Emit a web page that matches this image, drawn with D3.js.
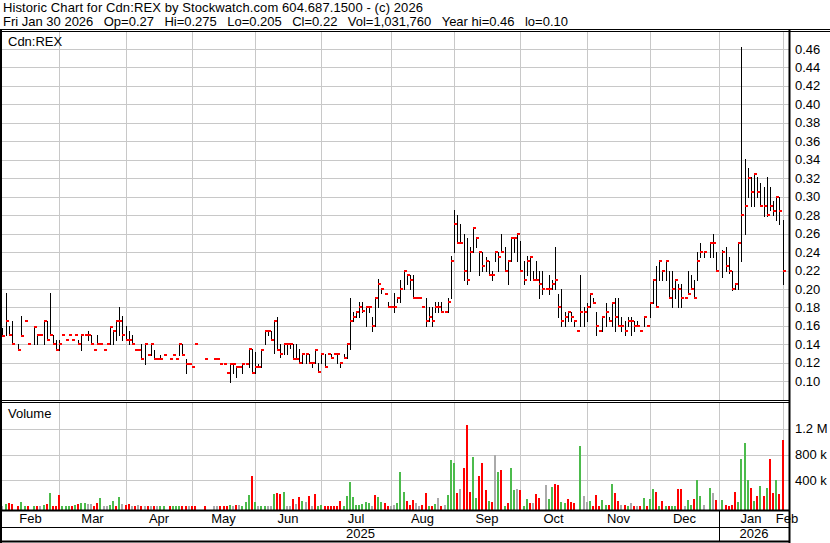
<!DOCTYPE html>
<html>
<head>
<meta charset="utf-8">
<script src="https://cdn.jsdelivr.net/npm/d3@7"></script>
<style>
  body { margin: 0; background: #fff; }
  text { font-family: "Liberation Sans", Arial, sans-serif; font-size: 13px; fill: #000; }
</style>
</head>
<body>
<div id="chart"></div>
<script>
"use strict";

// one slot per trading day, Feb 2025 .. Jan 30 2026 (null = no trade)
var high = [
  // Feb
  .158,.196,.160,.165,null,.140,.171,.165,.140,null,.159,.150,.150,.165,.165,.196,.150,.145,
  // Mar
  .145,.150,.145,.150,.145,.150,.145,.150,.150,.155,.150,.134,.150,.140,.134,.140,.159,.155,.165,.181,.171,
  // Apr
  .160,.155,.150,.134,.134,.140,.140,.129,.140,.134,.124,.129,.129,null,.124,.129,.124,.140,.140,.124,.119,
  // May
  .115,.140,null,null,.124,null,null,.124,.124,.119,.119,.109,.119,.119,.115,.115,.119,.119,.135,.135,
  // Jun
  .132,.119,.135,.155,.155,.155,.165,.170,.140,.140,.140,.140,.140,.140,.135,.130,.130,.130,.120,.134,.120,
  // Jul
  .131,.130,.130,.130,.130,.130,.120,.130,.140,.190,.175,.175,.186,.186,.180,.180,.170,.190,.211,.200,.196,.186,
  // Aug
  .180,.196,.190,.210,.220,.215,.215,.215,.190,.190,.180,.190,.180,.180,.186,.186,.186,.175,.190,.236,
  // Sep
  .286,.280,.270,.260,.255,.245,.266,.255,.240,.240,.235,.230,.220,.240,.240,.260,.245,.230,.255,.255,.260,
  // Oct
  .252,.230,.236,.235,.220,.230,.220,.220,.200,.215,.210,.245,.195,.200,.175,.175,.175,.165,.155,.215,.180,
  // Nov
  .185,.195,.190,.175,.155,.170,.185,.170,.185,.190,.190,.170,.165,.170,.170,.165,.165,.155,.170,.160,
  // Dec
  .185,.210,.225,.230,.220,.230,.220,.220,.210,.205,.205,.190,.220,.215,.210,.240,.250,.240,null,.250,.260,.240,
  // Jan
  null,.242,.245,.235,.220,.205,.250,.462,.341,.331,.321,.325,.321,.315,.311,.321,.311,.295,.300,.300,.275
];
var low = [
  .149,.150,.150,.140,null,.134,.149,.165,.140,null,.140,.140,.150,.140,.145,.150,.140,.134,
  .134,.150,.145,.150,.145,.150,.140,.134,.150,.145,.140,.134,.140,.140,.134,.140,.140,.140,.145,.150,.145,
  .145,.140,.140,.134,.134,.124,.119,.129,.129,.124,.124,.124,.129,null,.124,.129,.124,.129,.129,.109,.119,
  .115,.140,null,null,.124,null,null,.124,.124,.119,.119,.109,.099,.109,.105,.115,.109,.119,.115,.109,
  .109,.115,.115,.140,.150,.145,.131,.134,.126,.130,.130,.136,.124,.124,.120,.120,.120,.120,.115,.120,.110,
  .120,.115,.130,.125,.130,.120,.115,.125,.125,.135,.165,.170,.170,.175,.160,.175,.155,.160,.180,.196,.195,.180,
  .180,.175,.186,.186,.200,.205,.200,.190,.190,.190,.180,.160,.165,.160,.175,.175,.175,.175,.175,.190,
  .240,.250,.250,.210,.205,.220,.240,.245,.215,.220,.220,.215,.210,.230,.220,.240,.220,.205,.230,.240,.230,
  .220,.205,.215,.210,.210,.210,.190,.195,.200,.195,.200,.200,.170,.160,.160,.165,.165,.160,.155,.160,.160,
  .165,.180,.185,.150,.155,.155,.160,.165,.160,.155,.160,.155,.150,.160,.150,.155,.160,.155,.160,.160,
  .170,.185,.180,.210,.210,.210,.190,.180,.190,.180,.180,.190,.195,.200,.190,.210,.235,.235,null,.235,.235,.220,
  null,.213,.219,.217,.199,.200,.200,.230,.260,.300,.290,.290,.300,.290,.279,.279,.286,.280,.275,.270,.205
];
var close = [
  .149,.165,.150,.140,null,.134,.149,.165,.140,null,.159,.150,.150,.165,.145,.150,.140,.134,
  .140,.150,.145,.150,.145,.150,.140,.150,.150,.150,.140,.134,.140,.140,.134,.140,.159,.155,.165,.165,.150,
  .145,.145,.140,.134,.134,.124,.140,.129,.140,.124,.124,.124,.129,null,.124,.129,.124,.140,.129,.119,.119,
  .115,.140,null,null,.124,null,null,.124,.124,.119,.119,.109,.119,.119,.115,.115,.119,.119,.135,.109,
  .115,.115,.134,.155,.155,.145,.165,.134,.130,.140,.140,.140,.124,.124,.120,.130,.130,.120,.120,.134,.110,
  .130,.115,.130,.125,.130,.130,.120,.125,.140,.165,.170,.175,.180,.176,.180,.180,.160,.190,.205,.200,.195,.180,
  .180,.180,.190,.200,.220,.215,.210,.190,.190,.190,.180,.165,.170,.165,.180,.180,.175,.175,.186,.230,
  .270,.250,.250,.220,.210,.240,.266,.255,.240,.225,.230,.215,.215,.240,.235,.240,.220,.230,.255,.255,.260,
  .220,.210,.230,.235,.210,.210,.205,.200,.200,.200,.205,.210,.180,.165,.170,.175,.170,.165,.155,.175,.175,
  .180,.195,.185,.160,.155,.170,.175,.165,.185,.170,.160,.160,.155,.165,.165,.160,.160,.155,.170,.160,
  .185,.210,.180,.230,.220,.230,.190,.200,.210,.200,.190,.190,.195,.200,.190,.230,.240,.240,null,.250,.250,.220,
  null,.240,.225,.220,.200,.205,.250,.280,.290,.320,.305,.325,.305,.290,.290,.280,.290,.285,.300,.285,.220
];

// daily volume in thousands of shares
var volume = [
  10,34,49,34,0,5,65,5,5,0,4,5,3,18,34,204,5,5,
  172,5,5,5,5,18,34,49,49,34,34,5,49,126,5,5,18,80,5,142,34,
  18,34,5,5,18,3,5,3,5,3,3,5,3,0,5,3,3,3,3,8,3,
  3,3,0,0,3,0,0,3,3,5,3,3,18,3,18,18,3,65,172,467,
  65,3,5,5,5,5,188,204,188,219,5,5,111,34,142,80,65,157,5,188,5,
  18,5,5,5,5,5,80,5,157,374,142,18,18,34,65,49,5,172,142,65,49,5,
  3,18,49,529,219,80,18,95,49,3,18,204,5,5,34,126,5,18,172,715,
  668,204,266,591,1256,219,761,126,467,668,250,80,65,792,529,560,5,49,591,250,266,
  250,3,111,49,49,188,126,0,328,111,297,343,328,65,49,111,65,49,0,931,157,
  65,80,5,172,5,95,18,18,343,204,80,18,18,3,49,3,3,5,126,5,
  111,266,219,5,80,5,5,5,5,266,266,5,95,18,111,405,157,18,0,281,204,95,
  0,95,18,5,18,219,65,730,978,405,281,80,157,312,157,281,730,204,405,188,1031.76
];
// volume bar colour: u = up, d = down, n = unchanged
var volDir = (
  "nuddxduudxudnududd" +
  "duuududuunnddunnuudun" +
  "ddndndndndnuuxduuuddn" +
  "ddxxdxxnndddundnuuud" +
  "unuunnuddunndndundndu" +
  "udddddduuuuuuuuunduudd" +
  "nnuuudddnnddudundnuu" +
  "udnddduudddudnududuun" +
  "duudnddxnuudduudddxun" +
  "nuddduududdndundndud" +
  "uudududuuddnuuduunxund" +
  "xudddduuuududududdudd"
).split("");

var monthNames = ["Feb","Mar","Apr","May","Jun","Jul","Aug","Sep","Oct","Nov","Dec","Jan","Feb"];
var monthStart = [0, 18, 39, 60, 80, 101, 123, 143, 164, 185, 205, 227, 247];
var yearNames = ["2025", "2026"];
var yearStart = [0, 227];

var priceTicks = [0.10,0.12,0.14,0.16,0.18,0.20,0.22,0.24,0.26,0.28,0.30,0.32,0.34,0.36,0.38,0.40,0.42,0.44,0.46];
var volTicks = [400000, 800000, 1200000];
var volTickLabels = ["400 k", "800 k", "1.2 M"];

var headerTitle = "Historic Chart for Cdn:REX by Stockwatch.com 604.687.1500 - (c) 2026";
var headerFields = ["Fri Jan 30 2026", "Op=0.27", "Hi=0.275", "Lo=0.205", "Cl=0.22",
                    "Vol=1,031,760", "Year hi=0.46", "lo=0.10"];

// layout
var W = 830, H = 543;
var plotL = 2, plotR = 789;
var priceTop = 32, priceBot = 400;
var volTop = 403, volBot = 510;
var monthBot = 527, yearBot = 542;

var svg = d3.select("#chart")
  .append("svg")
    .attr("width", W)
    .attr("height", H)
    .style("display", "block");

svg.append("rect").attr("width", W).attr("height", H).attr("fill", "#fff");

var n = high.length;
var x = d3.scaleLinear().domain([0, 247]).range([2.46, 782.5]);
var y = d3.scaleLinear().domain([0.20, 0.46]).range([289, 49]);
var v = d3.scaleLinear().domain([0, 1200000]).range([506.2, 428.8]);

function px(i) { return Math.round(x(i)); }
function crisp(val) { return Math.round(val) + 0.5; }

// header
svg.append("text")
  .attr("x", 3)
  .attr("y", 12)
  .style("letter-spacing", "0.1px")
  .text(headerTitle);

// second header line: fields laid out one after another with a fixed gap
var fx = 3;
headerFields.forEach(function(f) {
  var t = svg.append("text")
    .attr("x", fx)
    .attr("y", 26)
    .text(f);
  fx += t.node().getComputedTextLength() + 10.4;
});

// grid: price pane
var grid = svg.append("g").attr("stroke", "#c8c8c8").attr("stroke-width", 1);
grid.selectAll(".hp")
  .data(priceTicks)
  .enter().append("line")
    .attr("x1", plotL).attr("x2", plotR)
    .attr("y1", function(d) { return crisp(y(d)); })
    .attr("y2", function(d) { return crisp(y(d)); });

// grid: volume pane
grid.selectAll(".hv")
  .data(volTicks)
  .enter().append("line")
    .attr("x1", plotL).attr("x2", plotR)
    .attr("y1", function(d) { return crisp(v(d)); })
    .attr("y2", function(d) { return crisp(v(d)); });

// month lines through both panes
var monthLines = monthStart.slice(1);
grid.selectAll(".vp")
  .data(monthLines)
  .enter().append("line")
    .attr("x1", function(d) { return px(d) + 0.5; })
    .attr("x2", function(d) { return px(d) + 0.5; })
    .attr("y1", priceTop).attr("y2", priceBot);
grid.selectAll(".vv")
  .data(monthLines)
  .enter().append("line")
    .attr("x1", function(d) { return px(d) + 0.5; })
    .attr("x2", function(d) { return px(d) + 0.5; })
    .attr("y1", volTop).attr("y2", volBot);

// price bars: high-low line plus close tick
var idx = d3.range(n).filter(function(i) { return high[i] != null; });

svg.append("g")
  .attr("stroke", "#000")
  .attr("stroke-width", 1)
  .selectAll("line")
  .data(idx.filter(function(i) { return high[i] > low[i]; }))
  .enter().append("line")
    .attr("x1", function(i) { return px(i) + 0.5; })
    .attr("x2", function(i) { return px(i) + 0.5; })
    .attr("y1", function(i) { return Math.round(y(high[i])); })
    .attr("y2", function(i) { return Math.round(y(low[i])) + 1; });

svg.append("g")
  .attr("fill", "#ff0000")
  .selectAll("rect")
  .data(idx)
  .enter().append("rect")
    .attr("x", function(i) { return px(i); })
    .attr("y", function(i) { return Math.round(y(close[i])) - 1; })
    .attr("width", 3)
    .attr("height", 2);

// volume bars
var volColor = { u: "#4cbb4c", d: "#ff0000", n: "#aaaaaa" };
svg.append("g")
  .selectAll("rect")
  .data(d3.range(n).filter(function(i) { return volume[i] > 0; }))
  .enter().append("rect")
    .attr("x", function(i) { return px(i) - 1; })
    .attr("y", function(i) { return Math.round(v(volume[i] * 1000)); })
    .attr("width", 2)
    .attr("height", function(i) { return volBot - Math.round(v(volume[i] * 1000)); })
    .attr("fill", function(i) { return volColor[volDir[i]] || "#aaaaaa"; });

// frame lines
var frame = svg.append("g").attr("stroke", "#000").attr("fill", "none");
frame.append("line").attr("x1", 0).attr("x2", W).attr("y1", 29.5).attr("y2", 29.5);
frame.append("line").attr("x1", 0).attr("x2", W).attr("y1", 31.5).attr("y2", 31.5);
frame.append("line").attr("x1", 0).attr("x2", plotR + 1).attr("y1", 400.5).attr("y2", 400.5);
frame.append("line").attr("x1", 0).attr("x2", plotR + 1).attr("y1", 402.5).attr("y2", 402.5);
frame.append("line").attr("x1", 0).attr("x2", plotR + 1).attr("y1", 510.5).attr("y2", 510.5).attr("stroke-width", 2);
frame.append("line").attr("x1", 0).attr("x2", plotR + 1).attr("y1", 527.5).attr("y2", 527.5);
frame.append("line").attr("x1", 0).attr("x2", plotR + 1).attr("y1", 541.5).attr("y2", 541.5).attr("stroke-width", 2);
frame.append("line").attr("x1", 1).attr("x2", 1).attr("y1", 30).attr("y2", H).attr("stroke-width", 2);
frame.append("line").attr("x1", plotR + 0.5).attr("x2", plotR + 0.5).attr("y1", 30).attr("y2", H).attr("stroke-width", 2);
frame.append("line")
  .attr("x1", px(yearStart[1]) + 0.5).attr("x2", px(yearStart[1]) + 0.5)
  .attr("y1", volBot).attr("y2", yearBot);

// right axis labels
svg.selectAll(".pl")
  .data(priceTicks)
  .enter().append("text")
    .attr("x", 795)
    .attr("y", function(d) { return y(d) + 4.5; })
    .text(function(d) { return d.toFixed(2); });

svg.selectAll(".vl")
  .data(volTicks)
  .enter().append("text")
    .attr("x", 795)
    .attr("y", function(d) { return v(d) + 4.5; })
    .text(function(d, i) { return volTickLabels[i]; });

// pane titles
svg.append("text").attr("x", 8).attr("y", 46).text("Cdn:REX");
svg.append("text").attr("x", 8).attr("y", 418).text("Volume");

// month labels, centred in each month
var bounds = monthStart.map(function(s, i) { return i === 0 ? plotL : px(s); }).concat([plotR + 2]);
svg.selectAll(".ml")
  .data(monthNames)
  .enter().append("text")
    .attr("text-anchor", "middle")
    .attr("x", function(d, i) { return (bounds[i] + bounds[i + 1]) / 2; })
    .attr("y", 523)
    .text(function(d) { return d; });

// year labels
var yb = [plotL, px(yearStart[1]), plotR];
svg.selectAll(".yl")
  .data(yearNames)
  .enter().append("text")
    .attr("text-anchor", "middle")
    .attr("x", function(d, i) { return (yb[i] + yb[i + 1]) / 2; })
    .attr("y", 538)
    .text(function(d) { return d; });
</script>
</body>
</html>
